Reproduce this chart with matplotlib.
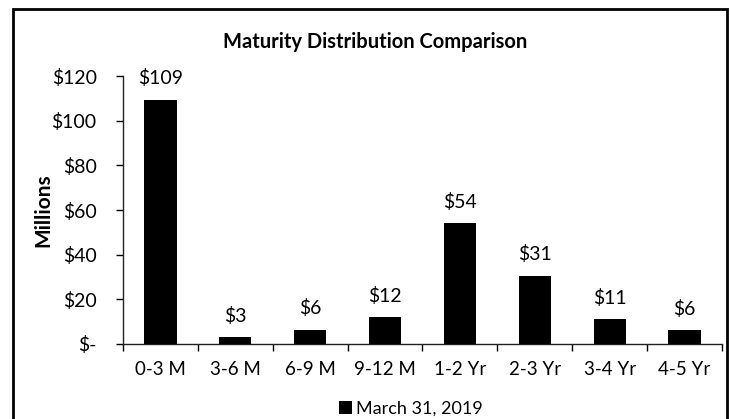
import numpy as np
import matplotlib.pyplot as plt
from matplotlib.patches import Rectangle
from matplotlib.ticker import FuncFormatter

plt.rcParams['font.family'] = ['Lato', 'DejaVu Sans']

# maturity buckets, $ millions
buckets = ['0-3 M', '3-6 M', '6-9 M', '9-12 M', '1-2 Yr', '2-3 Yr', '3-4 Yr', '4-5 Yr']
amounts = [109.4, 3.1, 6.4, 12.1, 54.2, 30.6, 11.2, 6.3]
series_name = 'March 31, 2019'

fig = plt.figure(figsize=(7.3, 4.19), dpi=100)
ax = fig.add_axes([0.1685, 0.179, 0.8205, 0.6396])

x = np.arange(len(buckets))
bars = ax.bar(x, amounts, width=0.43, color='black', label=series_name, zorder=3)

for xi, v in zip(x, amounts):
    ax.text(xi, v + 5.5, '${:.0f}'.format(v), ha='center', va='bottom', fontsize=14)

ax.set_xlim(-0.5, len(buckets) - 0.5)
ax.set_ylim(0, 120)
ax.set_yticks(np.arange(0, 121, 20))
ax.yaxis.set_major_formatter(FuncFormatter(lambda v, p: '$-' if v == 0 else '${:.0f}'.format(v)))

ax.set_xticks(x)
ax.set_xticklabels(buckets)
ax.set_xticks(np.arange(-0.5, len(buckets)), minor=True)
ax.tick_params(axis='x', which='major', length=0, pad=12, labelsize=13.5)
ax.tick_params(axis='x', which='minor', length=5, width=1, direction='out')
ax.tick_params(axis='y', length=5, width=1, direction='out', pad=14, labelsize=14)

for s in ['top', 'right']:
    ax.spines[s].set_visible(False)
for s in ['left', 'bottom']:
    ax.spines[s].set_linewidth(1.0)
    ax.spines[s].set_color('#222222')

ax.set_ylabel('Millions', fontsize=15, fontweight='bold')
ax.yaxis.set_label_coords(-0.117, 0.5)
fig.text(0.514, 0.9, 'Maturity Distribution Comparison', ha='center', va='center',
         fontsize=14.5, fontweight='bold')

leg = fig.legend(handles=[bars], labels=[series_name], loc='center',
                 bbox_to_anchor=(0.563, 0.025), frameon=False, fontsize=13,
                 handlelength=0.7, handleheight=0.7, handletextpad=0.2)

# outer chart border
fig.patches.append(Rectangle((13 / 730, -0.02), 714 / 730, 1 - 9 / 419 + 0.02,
                             transform=fig.transFigure, fill=False,
                             edgecolor='black', linewidth=2))

fig.savefig('out.png', dpi=100)
